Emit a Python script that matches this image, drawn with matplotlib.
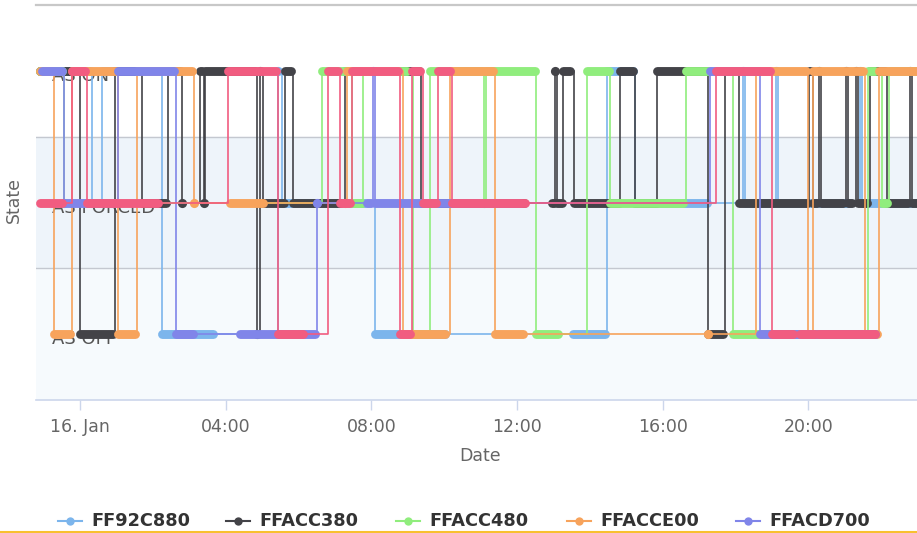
import matplotlib
matplotlib.use("Agg")
import matplotlib.pyplot as plt
from matplotlib.lines import Line2D

# state categories (y value -> label)
states = ["AS OFF", "AS FORCED", "AS ON"]
OFF, F, ON = 0, 1, 2

tick_hours = [0, 4, 8, 12, 16, 20]
tick_labels = ["16. Jan", "04:00", "08:00", "12:00", "16:00", "20:00"]

names = ["FF92C880", "FFACC380", "FFACC480", "FFACCE00", "FFACD700", "FFACDA80"]
colors = ["#7cb5ec", "#434348", "#90ed7d", "#f7a35c", "#8085e9", "#f15c80"]

# each series: runs of samples (start hour, end hour, state), hours from 16 Jan 00:00
lb_runs = [(-1.10, 0.27, ON), (0.33, 0.55, F), (0.60, 2.20, ON), (2.25, 3.65, OFF),
           (5.44, 5.44, ON), (5.55, 7.82, F), (8.10, 10.02, OFF), (13.53, 14.41, OFF),
           (14.47, 15.18, ON), (15.23, 17.21, F), (18.20, 18.20, ON), (18.26, 19.05, F),
           (19.11, 19.11, ON), (19.16, 21.13, F), (21.41, 21.41, ON), (21.46, 23.10, F)]
bk_runs = [(-1.10, -0.05, ON), (0.00, 0.91, OFF), (0.96, 1.65, ON), (1.70, 2.36, F),
           (2.42, 2.75, ON), (2.80, 2.80, F), (3.29, 3.36, ON), (3.40, 3.40, F),
           (3.44, 4.80, ON), (4.86, 4.86, OFF), (4.94, 4.94, ON), (5.02, 5.60, F),
           (5.63, 5.80, ON), (5.85, 7.14, F), (7.27, 9.30, ON), (9.36, 12.20, F),
           (12.96, 13.01, F), (13.04, 13.04, ON), (13.09, 13.23, F), (13.26, 13.45, ON),
           (13.56, 14.80, F), (14.82, 15.18, ON), (15.23, 15.80, F), (15.85, 17.21, ON),
           (17.24, 17.65, OFF), (17.71, 18.03, ON), (18.08, 19.96, F), (20.01, 20.07, ON),
           (20.12, 20.23, F), (20.29, 20.29, ON), (20.34, 20.94, F), (21.03, 21.03, ON),
           (21.08, 21.19, F), (21.30, 21.30, ON), (21.35, 21.60, F), (21.69, 22.09, ON),
           (22.15, 22.73, F), (22.78, 22.78, ON), (22.84, 23.10, F)]
gr_runs = [(-1.10, -0.49, ON), (-0.44, -0.44, F), (6.64, 7.41, ON), (7.47, 7.74, F),
           (7.77, 8.98, ON), (9.14, 9.55, OFF), (9.61, 11.04, ON), (11.09, 11.09, F),
           (11.14, 12.49, ON), (12.52, 13.12, OFF), (13.92, 14.52, ON), (14.55, 16.55, F),
           (16.64, 17.29, ON), (17.93, 21.55, OFF), (21.63, 21.82, ON), (22.01, 22.15, F),
           (22.21, 23.10, ON)]
or_runs = [(-1.10, -0.78, ON), (-0.72, -0.27, OFF), (-0.22, 0.99, ON), (1.04, 1.51, OFF),
           (1.56, 3.07, ON), (3.13, 3.13, F), (4.12, 5.02, F), (7.27, 7.27, F),
           (7.33, 8.73, ON), (8.87, 10.02, OFF), (10.16, 11.34, ON), (11.39, 12.16, OFF),
           (17.24, 17.24, OFF), (18.56, 19.93, ON), (19.98, 20.07, OFF), (20.12, 21.49, ON),
           (21.55, 21.88, OFF), (21.93, 23.10, ON)]
pu_runs = [(-1.04, -0.49, ON), (-0.44, 0.99, F), (1.04, 2.58, ON), (2.64, 3.10, OFF),
           (4.39, 6.45, OFF), (6.51, 6.51, F), (7.88, 8.00, F), (8.04, 8.04, ON),
           (8.10, 12.08, F), (17.29, 18.61, ON), (18.67, 21.82, OFF)]
pk_runs = [(-1.10, -0.49, F), (-0.22, 0.14, ON), (0.19, 2.14, F), (4.06, 5.38, ON),
           (5.44, 6.12, OFF), (6.81, 7.08, ON), (7.14, 7.41, F), (7.47, 8.73, ON),
           (8.78, 9.06, OFF), (9.11, 9.33, ON), (9.42, 9.77, F), (9.83, 10.16, ON),
           (10.21, 12.22, F), (17.46, 18.94, ON), (19.00, 19.57, OFF), (19.76, 20.18, OFF),
           (20.26, 21.82, OFF)]
all_runs = [lb_runs, bk_runs, gr_runs, or_runs, pu_runs, pk_runs]

W, H = 917, 533
fig = plt.figure(figsize=(W / 100, H / 100), dpi=100)
ax = fig.add_axes([36 / W, (H - 400) / H, (W - 36) / W, 395 / H])
ax.set_xlim(-1.21, 22.98)
ax.set_ylim(-0.5, 2.5)

# plot bands and grid
ax.axhspan(0.5, 1.5, color="#eef4fa", zorder=0)
ax.axhspan(-0.5, 0.5, color="#f6fafd", zorder=0)
for yv in [0.5, 1.5]:
    ax.axhline(yv, color="#c4c8d0", lw=1, zorder=0.5)
ax.axhline(2.5, color="#c8c8c8", lw=1.6, zorder=0.5, clip_on=False)

for s in ["top", "right", "left"]:
    ax.spines[s].set_visible(False)
ax.spines["bottom"].set_color("#ccd6eb")
ax.spines["bottom"].set_linewidth(1.2)

ax.set_yticks([])
ax.set_xticks(tick_hours)
ax.set_xticklabels(tick_labels)
ax.tick_params(axis="x", length=7, width=1, color="#ccd6eb", pad=6,
               labelsize=12.5, labelcolor="#666666")

# category labels inside the plot, beneath the series
for val, lab in enumerate(states):
    ax.text(0.018, val - 0.04, lab, transform=ax.get_yaxis_transform(),
            ha="left", va="center", fontsize=13, color="#555555", zorder=1)

for i, (runs, c) in enumerate(zip(all_runs, colors)):
    xs, ys = [], []
    for s, e, v in runs:
        xs += [s, e]
        ys += [v, v]
    z = 2 + i
    ax.plot(xs, ys, drawstyle="steps-post", color=c, lw=1.2, zorder=z)
    for s, e, v in runs:
        if e > s:
            ax.plot([s, e], [v, v], color=c, lw=6.4, solid_capstyle="round", zorder=z + 0.5)
        else:
            ax.plot([s], [v], "o", color=c, ms=6.6, mew=0, zorder=z + 0.5)

fig.text(480 / W, 1 - 456 / H, "Date", ha="center", va="center", fontsize=12.5, color="#666666")
fig.text(14 / W, 1 - 200 / H, "State", ha="center", va="center", rotation=90,
         fontsize=12.5, color="#666666")

# legend (first five series visible)
leg_x = [58, 226, 396, 567, 736]
ly = 1 - 521 / H
for lx, name, c in zip(leg_x, names[:5], colors[:5]):
    fig.add_artist(Line2D([lx / W, (lx + 24) / W], [ly, ly], color=c, lw=1.5,
                          transform=fig.transFigure))
    fig.add_artist(Line2D([(lx + 12) / W], [ly], marker="o", color=c, ms=6, mew=0,
                          transform=fig.transFigure))
    fig.text((lx + 33) / W, ly, name, ha="left", va="center", fontsize=12.8,
             fontweight="bold", color="#333333")

fig.add_artist(Line2D([0, 1], [1 - 531.5 / H, 1 - 531.5 / H], color="#f8c030", lw=1.5,
                      transform=fig.transFigure))

fig.savefig("out.png", dpi=100)
